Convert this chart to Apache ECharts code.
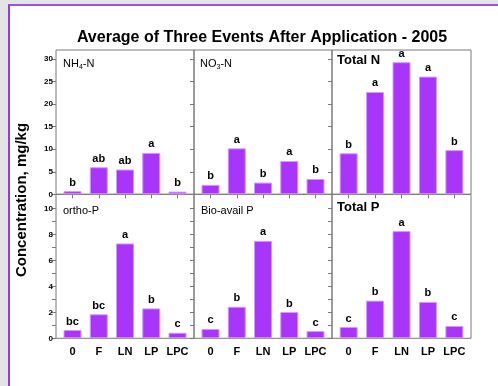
<!DOCTYPE html>
<html>
<head>
<meta charset="utf-8">
<script src="https://cdn.jsdelivr.net/npm/echarts@6/dist/echarts.min.js"></script>
<style>
  html, body { margin: 0; padding: 0; width: 498px; height: 386px; overflow: hidden; background: #e4e4e4; }
  #sheet { position: absolute; left: 8px; top: 4px; right: 0; bottom: 0; background: #fff;
           border-left: 2px solid #8e3ce4; border-top: 2px solid #9a52e6; }
  #chart { position: absolute; left: 0; top: 0; width: 498px; height: 386px; }
</style>
</head>
<body>
<div id="sheet"></div>
<div id="chart"></div>
<script>
// Treatments along the x axis
const categories = ['0', 'F', 'LN', 'LP', 'LPC'];

// Nitrogen forms, mg/kg
const nh4N = [0.7, 6.0, 5.5, 9.2, 0.6];
const nh4NLetters = ['b', 'ab', 'ab', 'a', 'b'];
const no3N = [2.1, 10.2, 2.6, 7.4, 3.4];
const no3NLetters = ['b', 'a', 'b', 'a', 'b'];
const totalN = [9.1, 22.7, 29.3, 26.1, 9.8];
const totalNLetters = ['b', 'a', 'a', 'a', 'b'];

// Phosphorus forms, mg/kg
const orthoP = [0.64, 1.85, 7.3, 2.3, 0.43];
const orthoPLetters = ['bc', 'bc', 'a', 'b', 'c'];
const bioAvailP = [0.72, 2.43, 7.5, 2.02, 0.56];
const bioAvailPLetters = ['c', 'b', 'a', 'b', 'c'];
const totalP = [0.87, 2.9, 8.25, 2.8, 0.95];
const totalPLetters = ['c', 'b', 'a', 'b', 'c'];

// Axis ticks
const nTicks = [0, 5, 10, 15, 20, 25, 30];
const pTicks = [0, 1, 2, 3, 4, 5, 6, 7, 8, 9, 10];
const pTickLabels = [0, 2, 4, 6, 8, 10];
const catTicks = [0, 1, 2, 3, 4];

const panels = [
  { values: nh4N, letters: nh4NLetters, row: 0, col: 0 },
  { values: no3N, letters: no3NLetters, row: 0, col: 1 },
  { values: totalN, letters: totalNLetters, row: 0, col: 2 },
  { values: orthoP, letters: orthoPLetters, row: 1, col: 0 },
  { values: bioAvailP, letters: bioAvailPLetters, row: 1, col: 1 },
  { values: totalP, letters: totalPLetters, row: 1, col: 2 }
];

const FONT = '"Liberation Sans", Arial, sans-serif';
const FRAME = '#7a7a7a';
const colLeft = [56, 194, 332];
const colWidth = [138, 138, 139];
const rowTop = [50, 194.3];
const rowHeight = [144.3, 144];
const rowMax = [32, 11.08];

const grid = [], xAxis = [], yAxis = [], series = [];
panels.forEach((p, i) => {
  grid.push({
    left: colLeft[p.col], top: rowTop[p.row],
    width: colWidth[p.col], height: rowHeight[p.row],
    show: true, borderColor: FRAME, borderWidth: 1, backgroundColor: 'transparent'
  });
  const bottomRow = p.row === 1;
  xAxis.push({
    gridIndex: i, type: 'value', min: -0.629, max: 4.629,
    splitLine: { show: false },
    axisLine: { show: false, onZero: false },
    axisTick: { show: !bottomRow, inside: false, length: 4, customValues: catTicks,
                lineStyle: { color: FRAME } },
    axisLabel: {
      show: bottomRow, customValues: catTicks, margin: 8,
      fontFamily: FONT, fontWeight: 'bold', fontSize: 11, color: '#000',
      formatter: v => categories[Math.round(v)]
    }
  });
  yAxis.push({
    gridIndex: i, type: 'value', min: 0, max: rowMax[p.row],
    splitLine: { show: false },
    axisLine: { show: false, onZero: false },
    axisTick: { show: true, inside: false, length: 4,
                customValues: p.row === 0 ? nTicks : pTicks,
                lineStyle: { color: FRAME } },
    axisLabel: {
      show: p.col === 0, customValues: p.row === 0 ? nTicks : pTickLabels, margin: 3,
      fontFamily: FONT, fontWeight: 'bold', fontSize: 8, color: '#000'
    }
  });
  series.push({
    type: 'bar', xAxisIndex: i, yAxisIndex: i, barWidth: 18,
    data: p.values.map((v, k) => [k, v]),
    itemStyle: { color: '#a935fb', borderColor: '#d49bff', borderWidth: 1 },
    label: {
      show: true, position: 'top', distance: 3,
      fontFamily: FONT, fontWeight: 'bold', fontSize: 11, color: '#000',
      formatter: d => p.letters[d.dataIndex]
    },
    emphasis: { disabled: true }
  });
});

// Panel captions
const plain = { fontFamily: FONT, fontSize: 11, color: '#000' };
const sub = { fontFamily: FONT, fontSize: 7, color: '#000', verticalAlign: 'bottom', padding: [8, 0, 0, 0] };
const bold = { fontFamily: FONT, fontSize: 13, fontWeight: 'bold', color: '#000' };
function caption(x, y, text, rich) {
  return { type: 'text', left: x, top: y, silent: true,
           style: { text: text, rich: rich, fontFamily: FONT, fontSize: 11, fill: '#000' } };
}

const chart = echarts.init(document.getElementById('chart'), null, { renderer: 'canvas' });
chart.setOption({
  animation: false,
  backgroundColor: 'transparent',
  title: {
    text: 'Average of Three Events After Application - 2005',
    left: 257, top: 25, textAlign: 'center',
    textStyle: { fontFamily: FONT, fontWeight: 'bold', fontSize: 16, color: '#000' }
  },
  grid, xAxis, yAxis, series,
  graphic: [
    caption(63, 58, '{a|NH}{s|4}{a|-N}', { a: plain, s: sub }),
    caption(200, 58, '{a|NO}{s|3}{a|-N}', { a: plain, s: sub }),
    caption(337, 54, '{b|Total N}', { b: bold }),
    caption(63, 205, '{a|ortho-P}', { a: plain }),
    caption(201, 205, '{a|Bio-avail P}', { a: plain }),
    caption(337, 201, '{b|Total P}', { b: bold }),
    {
      type: 'text', x: 22, y: 200, rotation: Math.PI / 2, silent: true,
      style: { text: 'Concentration, mg/kg', fontFamily: FONT, fontWeight: 'bold',
               fontSize: 15, fill: '#000', align: 'center', verticalAlign: 'middle' }
    }
  ]
});
</script>
</body>
</html>
